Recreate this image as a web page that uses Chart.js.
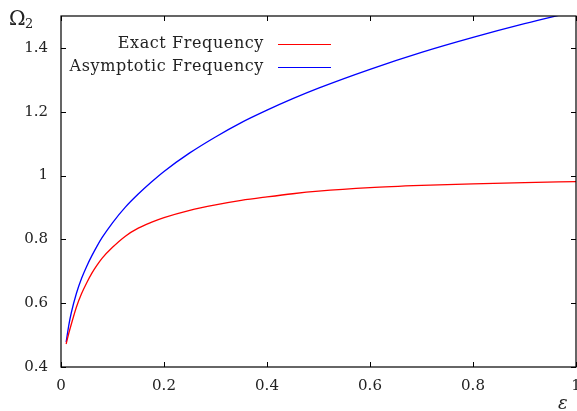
<!DOCTYPE html>
<html>
<head>
<meta charset="utf-8">
<script src="https://cdn.jsdelivr.net/npm/chart.js@4/dist/chart.umd.min.js"></script>
<style>
  html, body { margin: 0; padding: 0; background: #fff; }
  #wrap { width: 577px; height: 411px; }
</style>
</head>
<body>
<div id="wrap"><canvas id="freqChart" width="577" height="411"></canvas></div>
<script>
// values
const epsilon   = [0.01, 0.015, 0.02, 0.03, 0.04, 0.05, 0.06, 0.07, 0.08, 0.1, 0.125, 0.15, 0.175, 0.2, 0.25, 0.3, 0.35, 0.4, 0.45, 0.5, 0.6, 0.7, 0.8, 0.9, 1.0];
const exactFreq = [0.472, 0.505, 0.534, 0.588, 0.630, 0.664, 0.694, 0.719, 0.741, 0.775, 0.810, 0.835, 0.853, 0.868, 0.891, 0.908, 0.922, 0.933, 0.943, 0.951, 0.962, 0.969, 0.974, 0.978, 0.981];
const asymFreq  = [0.478, 0.530, 0.570, 0.631, 0.678, 0.716, 0.749, 0.779, 0.806, 0.852, 0.901, 0.942, 0.979, 1.013, 1.071, 1.121, 1.166, 1.205, 1.241, 1.274, 1.333, 1.386, 1.433, 1.476, 1.515];

const xTicks = [0, 0.2, 0.4, 0.6, 0.8, 1];
const yTicks = [0.4, 0.6, 0.8, 1, 1.2, 1.4];
const seriesNames = ['Exact Frequency', 'Asymptotic Frequency'];
const seriesColors = ['#ff0000', '#0000ff'];

const serif = "'DejaVu Serif', 'Liberation Serif', serif";

// gnuplot-like frame, inward ticks on all four sides, key and axis names
const gnuFrame = {
    id: 'gnuFrame',
    afterDatasetsDraw(chart) {
        const { ctx, chartArea: a, scales } = chart;
        const tick = 5;
        ctx.save();
        ctx.strokeStyle = '#000';
        ctx.lineWidth = 1.2;
        ctx.strokeRect(a.left, a.top, a.right - a.left, a.bottom - a.top);

        ctx.lineWidth = 1;
        ctx.beginPath();
        xTicks.forEach(v => {
            const px = Math.round(scales.x.getPixelForValue(v)) + 0.5;
            ctx.moveTo(px, a.bottom); ctx.lineTo(px, a.bottom - tick);
            ctx.moveTo(px, a.top); ctx.lineTo(px, a.top + tick);
        });
        yTicks.forEach(v => {
            const py = Math.round(scales.y.getPixelForValue(v)) + 0.5;
            ctx.moveTo(a.left, py); ctx.lineTo(a.left + tick, py);
            ctx.moveTo(a.right, py); ctx.lineTo(a.right - tick, py);
        });
        ctx.stroke();

        // key
        ctx.font = '16px ' + serif;
        ctx.letterSpacing = '0.6px';
        ctx.fillStyle = '#222';
        ctx.textAlign = 'right';
        ctx.textBaseline = 'middle';
        chart.data.datasets.forEach((ds, i) => {
            const y = 44 + i * 23;
            ctx.fillText(ds.label, 264, y);
            ctx.strokeStyle = ds.borderColor;
            ctx.lineWidth = 1.2;
            ctx.beginPath();
            ctx.moveTo(278, y + 0.5);
            ctx.lineTo(331, y + 0.5);
            ctx.stroke();
        });
        ctx.letterSpacing = '0px';

        // axis names
        ctx.fillStyle = '#222';
        ctx.textAlign = 'left';
        ctx.textBaseline = 'alphabetic';
        ctx.font = '20px ' + serif;
        ctx.fillText('\u03A9', 9, 25);
        ctx.font = '13px ' + serif;
        ctx.fillText('2', 25, 28);
        ctx.font = 'italic 18px ' + serif;
        ctx.fillText('\u03B5', 558, 409);
        ctx.restore();
    }
};

const tickFont = { family: serif, size: 15 };

const ctx = document.getElementById('freqChart').getContext('2d');
new Chart(ctx, {
    type: 'line',
    data: {
        datasets: [
            {
                label: seriesNames[0],
                data: epsilon.map((e, i) => ({ x: e, y: exactFreq[i] })),
                borderColor: seriesColors[0],
                borderWidth: 1.3,
                pointRadius: 0,
                cubicInterpolationMode: 'monotone',
                fill: false
            },
            {
                label: seriesNames[1],
                data: epsilon.map((e, i) => ({ x: e, y: asymFreq[i] })),
                borderColor: seriesColors[1],
                borderWidth: 1.3,
                pointRadius: 0,
                cubicInterpolationMode: 'monotone',
                fill: false
            }
        ]
    },
    options: {
        responsive: false,
        animation: false,
        layout: { padding: { top: 16, right: 1, left: 0, bottom: 0 } },
        plugins: {
            legend: { display: false },
            tooltip: { enabled: false }
        },
        scales: {
            x: {
                type: 'linear',
                min: 0,
                max: 1,
                afterBuildTicks: s => { s.ticks = xTicks.map(v => ({ value: v })); },
                afterFit: s => { s.height = 44; s.paddingLeft = 0; s.paddingRight = 0; },
                grid: { display: false, drawTicks: false },
                border: { display: false },
                ticks: { color: '#222', font: tickFont, padding: 10, maxRotation: 0, callback: v => String(v) }
            },
            y: {
                type: 'linear',
                min: 0.4,
                max: 1.5,
                afterBuildTicks: s => { s.ticks = yTicks.map(v => ({ value: v })); },
                afterFit: s => { s.width = 61; s.paddingTop = 0; s.paddingBottom = 0; },
                grid: { display: false, drawTicks: false },
                border: { display: false },
                ticks: { color: '#222', font: tickFont, padding: 13, callback: v => String(v) }
            }
        }
    },
    plugins: [gnuFrame]
});
</script>
</body>
</html>
